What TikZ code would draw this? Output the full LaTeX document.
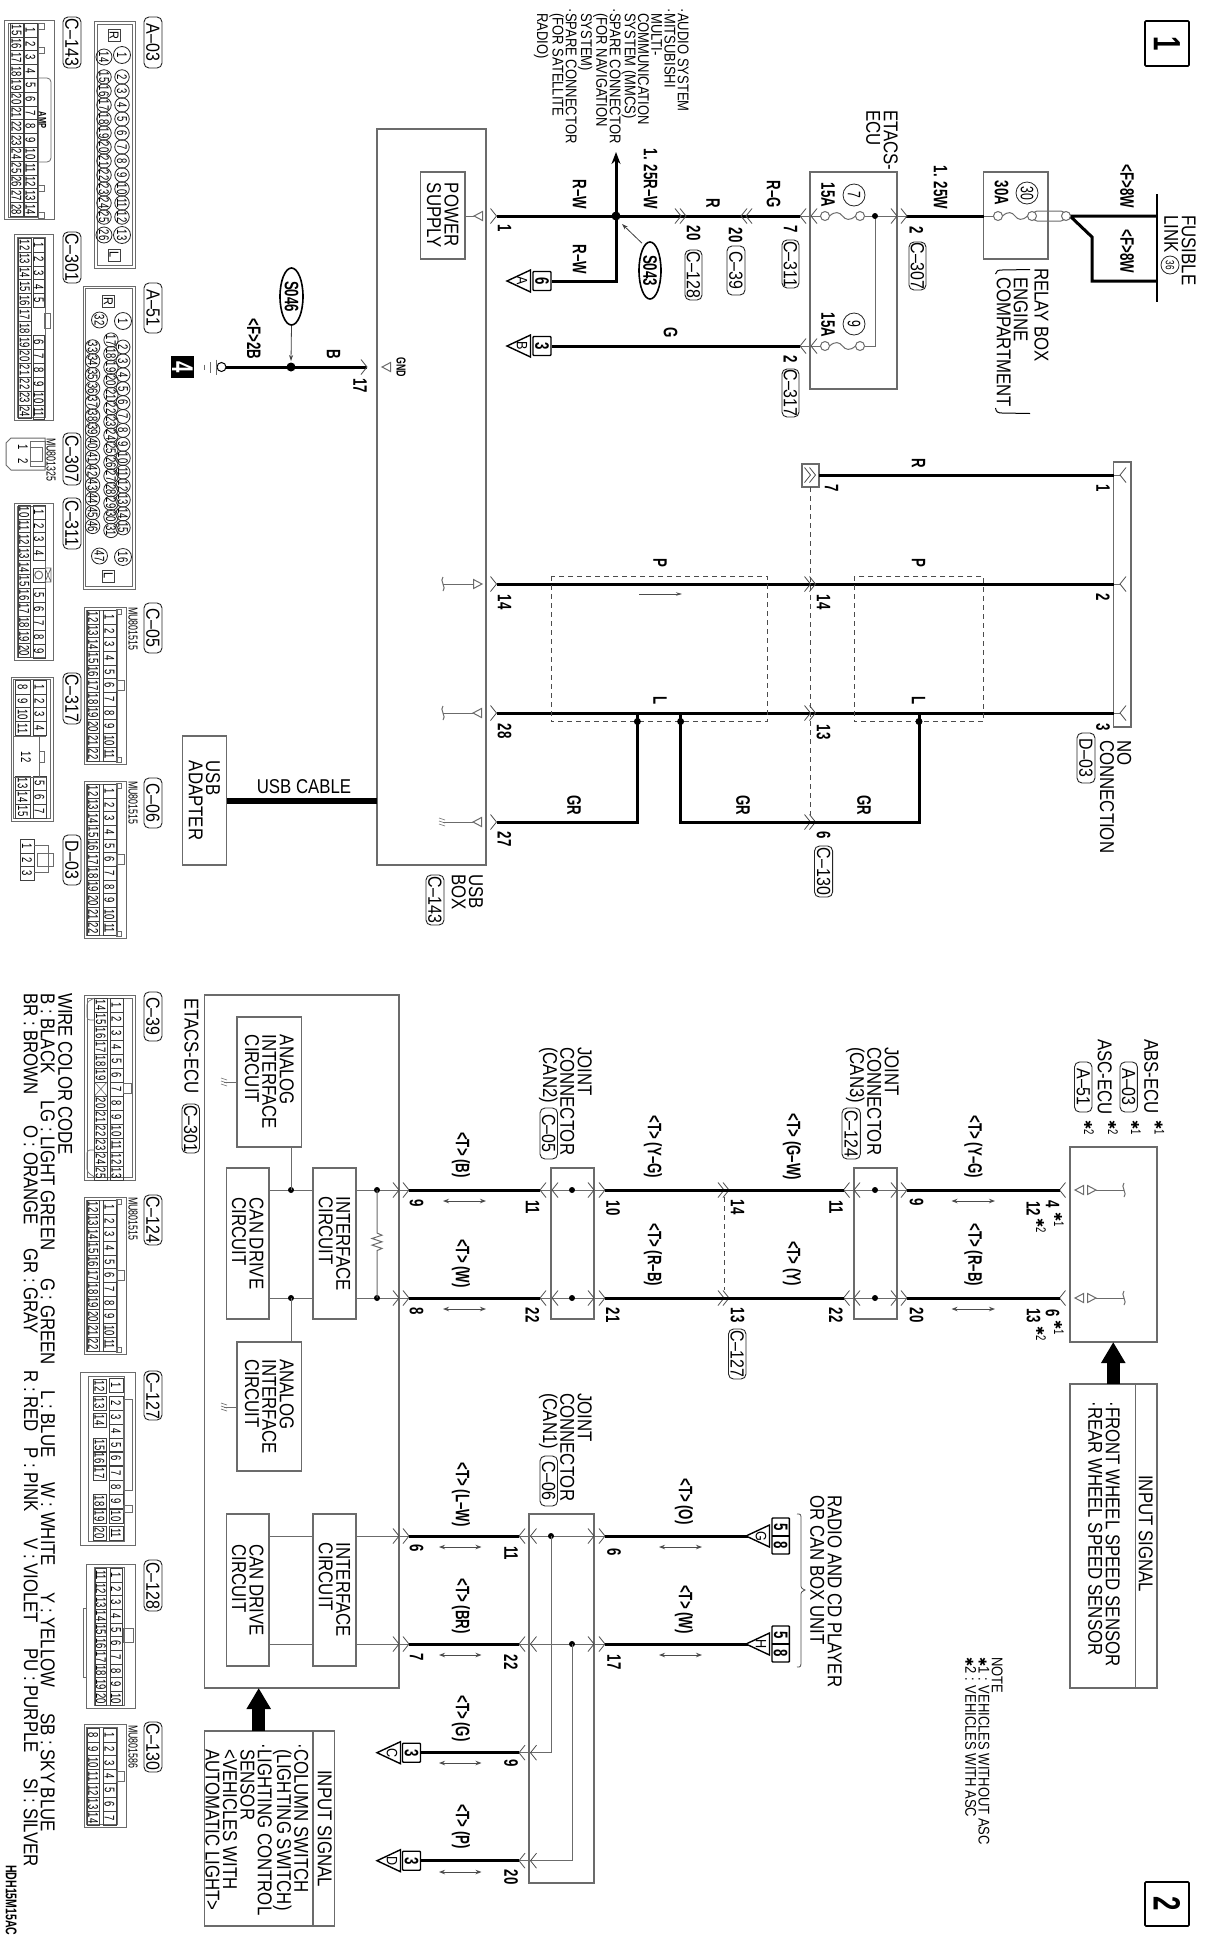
\documentclass[tikz,border=0pt]{standalone}
\usepackage{fontspec}
\usetikzlibrary{arrows.meta,shapes.geometric}
\setmainfont{Liberation Sans}
\newfontfamily\fA[FakeStretch=0.84]{Liberation Sans}
\newfontfamily\fB[FakeStretch=0.68,UprightFont=* Bold]{Liberation Sans}
\newfontfamily\fC[FakeStretch=0.68]{Liberation Sans}
\newfontfamily\fS{DejaVu Sans}
\newcommand\sA{\fA\fontsize{20}{17.4}\selectfont}
\newcommand\sC{\fA\fontsize{15.5}{13.3}\selectfont}
\newcommand\sD{\fC\fontsize{13}{13}\selectfont}
\newcommand\sN{\fB\fontsize{19.5}{19.5}\selectfont}
\newcommand\sP{\fC\fontsize{14}{14}\selectfont}
\newcommand\sQ{\fA\fontsize{13}{13}\selectfont}
\newcommand\sK{\fA\fontsize{19}{19}\selectfont}
\newcommand\st{{\fS\fontsize{11}{11}\selectfont ✱}}
\newcounter{nn}
\definecolor{lg}{gray}{0.42}
\tikzset{
 txt/.style={rotate=-90,inner sep=0pt,font=\sA,align=left},
 tagb/.style={rotate=-90,draw=black!85,line width=0.9pt,rounded corners=5pt,inner sep=0pt,font=\sK},
 blk/.style={rotate=-90,draw=lg,line width=1.1pt,inner sep=0pt,font=\sA,align=left},
 box/.style={draw=lg,line width=1.1pt},
 thk/.style={draw=black,line width=3pt,line join=miter},
 thn/.style={draw=lg,line width=1pt},
 chv/.style={draw=black!70,line width=0.8pt},
 dsh/.style={draw=black!70,line width=0.8pt,dash pattern=on 5pt off 4pt},
 pin/.style={rotate=-90,draw=black!75,line width=0.6pt,inner sep=0pt,font=\sP},
 cir/.style={rotate=-90,circle,draw=black!85,line width=0.8pt,inner sep=0pt,font=\sP},
 dbl/.style={draw=black!70,line width=0.9pt,{Stealth[length=6pt,width=4.5pt]}-{Stealth[length=6pt,width=4.5pt]}},
}
\newcommand\Tx[4][]{\stepcounter{nn}\node[txt,anchor=north west,#1] (n\thenn) at ({#2},{#3}) {#4};}
\newcommand\Cx[4][]{\stepcounter{nn}\node[txt,anchor=center,#1] (n\thenn) at ({#2},{#3}) {#4};}
\newcommand\Num[3]{\Cx[font=\sN]{#1}{#2}{#3}}
\newcommand\Tag[5]{\stepcounter{nn}\node[tagb,minimum width={#4-#3},minimum height={#2-#1}] (n\thenn) at ({(#1+#2)/2},{(#3+#4)/2}) {#5};}
\newcommand\Bx[5][]{\draw[box,#1] (#2,#3) rectangle (#4,#5);}
\newcommand\Blk[6]{\node[blk,minimum width={#5-#4},minimum height={#3-#2}] (#1) at ({(#2+#3)/2},{(#4+#5)/2}) {#6};}
\newcommand\chR[2]{\draw[chv] (#1,#2)++(-6,-7.5) -- (#1,#2) -- ++(-6,7.5);}
\newcommand\chL[2]{\draw[chv] (#1,#2)++(6,-7.5) -- (#1,#2) -- ++(6,7.5);}
\newcommand\Dt[2]{\fill (#1,#2) circle[radius=3pt];}
\newcommand\TriL[2]{\draw[thn] (#1,#2) -- ++(8.5,-4.5) -- ++(0,9) -- cycle;}
\newcommand\TriR[2]{\draw[thn] (#1,#2) -- ++(-8.5,-4.5) -- ++(0,9) -- cycle;}
\newcommand\Tld[2]{\draw[thn] (#1,#2)++(0,-7) .. controls ++(-4,3) and ++(4,-3) .. ++(0,14);}
\newcommand\Gnd[2]{\draw[thn,line width=.6pt] (#1,#2)++(-3,-4)--++(6,2) (#1,#2)++(-3,-1)--++(6,2) (#1,#2)++(-3,2)--++(6,2);}
\newcommand\Fz[3]{\draw[thn] (#1,#3) circle[radius=4.5pt] (#2,#3) circle[radius=4.5pt];
 \draw[thn] ({#1+4.5},#3) .. controls ({#1+10},{#3-5}) and ({(#1+#2)/2-3},{#3-4}) .. ({(#1+#2)/2},#3) .. controls ({(#1+#2)/2+3},{#3+4}) and ({#2-10},{#3+5}) .. ({#2-4.5},#3);}
\newcommand\Tri[3]{\draw[draw=black,line width=1.4pt] (#1,#2) -- ++(23.5,-11) -- ++(0,22) -- cycle;
 \Cx[font=\fA\fontsize{15}{15}\selectfont]{#1+15}{#2}{#3}}
\newcommand\Cell[6]{\stepcounter{nn}\node[pin,minimum width=#5,minimum height={#2-#1},#6] (n\thenn) at ({(#1+#2)/2},{#3}) {#4};}
\newcommand\Row[5]{\foreach \n [count=\i from 0] in {#5} {\Cell{#1}{#2}{#3+\i*#4}{\n}{#4}{}}}
\newcommand\Cir[4]{\stepcounter{nn}\node[cir,minimum size=#3] (n\thenn) at ({#1},{#2}) {#4};}
\newcommand\Jc[3]{\Bx[line width=.9pt]{84}{#1}{126.5}{#1+157}\Bx[line width=.7pt]{86}{#1+3}{117}{#1+154}
 \Row{103}{116}{#1+10}{13.7}{1,2,3,4,5,6,7,8,9,10,11}
 \Row{87}{99.5}{#1+10}{13.7}{12,13,14,15,16,17,18,19,20,21,22}
 \Bx[line width=.7pt]{116}{#1+73}{124.5}{#1+83}\Bx[line width=.7pt]{116}{#1+2}{121}{#1+7}\Bx[line width=.7pt]{116}{#1+150}{121}{#1+155}
 \Tx[font=\sD]{138}{#1}{#3}}
\newcommand\Bt[2]{\draw[draw=black,line width=1.4pt,rounded corners=.8pt] (#1,#2)++(-9,-9.5) rectangle ++(18,19);}
\begin{document}
\begin{tikzpicture}[x=1pt,y=-1pt]
\useasboundingbox (0,0) rectangle (1210,1947);
\fill[white] (0,0) rectangle (1210,1947);
%% ---- page number boxes
\node[rotate=-90,draw=black,line width=1.6pt,rounded corners=1pt,minimum width=45pt,minimum height=44pt,font=\fB\fontsize{38}{38}\selectfont] (pg1) at (1167,43.5) {1};
\node[rotate=-90,draw=black,line width=1.6pt,rounded corners=1pt,minimum width=44pt,minimum height=44pt,font=\fB\fontsize{38}{38}\selectfont] (pg2) at (1167,1904) {2};
%% ---- connector tags, left column
\Tag{144}{162}{17}{68}{A–03}\Tag{63}{81}{17}{68}{C–143}\Tag{63}{81}{232}{283}{C–301}\Tag{144}{162}{283}{333}{A–51}
\Tag{63}{81}{433}{485}{C–307}\Tag{63}{81}{498}{549}{C–311}\Tag{144}{162}{603}{653}{C–05}\Tag{63}{81}{673}{724}{C–317}
\Tag{144}{162}{778}{828}{C–06}\Tag{63}{81}{835}{885}{D–03}\Tag{144}{162}{992}{1041}{C–39}\Tag{144}{162}{1195}{1245}{C–124}
\Tag{144}{162}{1371}{1420}{C–127}\Tag{144}{162}{1560}{1611}{C–128}\Tag{144}{162}{1722}{1772}{C–130}
%% C-143
\Bx[line width=.9pt]{4.6}{20}{54}{219}\Bx[line width=.7pt]{8}{23}{38}{217}
\Row{24}{37}{30}{13.8}{1,2,3,4,5,6,7,8,9,10,11,12,13,14}
\Row{10}{23}{30}{13.8}{15,16,17,18,19,20,21,22,23,24,25,26,27,28}
\draw[thn,rounded corners=4pt,line width=.8pt] (38,78) -- (51,78) -- (51,162) -- (38,162);
\Cx[font=\fB\fontsize{11}{11}\selectfont]{42.5}{120}{AMP}
\foreach \yy in {23,47,185,212}{\Bx[line width=.7pt]{38}{\yy}{44}{\yy+6}}
%% A-03
\Bx[line width=.9pt]{94.5}{21.7}{135}{268}\Bx[line width=.7pt]{97}{24}{132.5}{265.5}
\Cell{108}{120}{35}{R}{12}{font=\sQ}\Cell{108}{120}{255}{L}{12}{font=\sQ}
\Cir{122}{55}{17}{1}\Cir{104}{57}{16}{14}
\foreach \n [count=\i from 0] in {2,...,12} {\Cir{122}{77+\i*14}{14.5}{\n}}
\foreach \n [count=\i from 0] in {15,...,25} {\Cir{104}{77+\i*14}{14.5}{\n}}
\Cir{122}{235}{17}{13}\Cir{104}{235}{16}{26}
%% A-51
\Bx[line width=.9pt]{83}{286}{135}{589}\Bx[line width=.7pt]{85.5}{288.5}{132.5}{586.5}
\Cell{102}{114.6}{301}{R}{12}{font=\sQ}\Cell{102}{114.6}{576}{L}{12}{font=\sQ}
\Cir{123}{321}{17}{1}\Cir{99.5}{320}{16}{32}
\foreach \n [count=\i from 0] in {2,...,15} {\Cir{123}{347+\i*13.9}{14}{\n}}
\foreach \n [count=\i from 0] in {17,...,31} {\Cir{111}{340+\i*13.6}{14}{\n}}
\foreach \n [count=\i from 0] in {33,...,46} {\Cir{92.6}{347+\i*13.8}{14}{\n}}
\Cir{123}{557}{17}{16}\Cir{99.5}{556}{16}{47}
%% C-301
\Bx[line width=.9pt]{14.7}{234}{53}{420}\Bx[line width=.7pt]{17}{237}{45.5}{417}
\Row{33}{44.5}{245}{13.9}{1,2,3,4,5}\Row{33}{44.5}{342}{14}{6,7,8,9,10,11}
\Row{18.5}{31}{245}{13.9}{12,13,14,15,16,17,18,19,20,21,22,23,24}
\Bx[line width=.7pt]{44.5}{313}{50}{328}
%% C-307
\draw[thn] (6,443)--(11,438)--(45,438)--(45,470)--(11,470)--(6,465)--cycle;
\Bx[line width=.7pt]{30}{441}{45}{466}\Bx[line width=.7pt]{30}{447}{42}{461}
\Cx[font=\sP]{23}{447}{1}\Cx[font=\sP]{23}{461}{2}
\Tx[font=\sD]{56}{438}{MU801325}
%% C-311
\Bx[line width=.9pt]{14.7}{503}{53}{660}\Bx[line width=.7pt]{17}{506}{45.5}{657}
\Row{33}{45}{512}{13.7}{1,2,3,4}\Cell{33}{45}{575}{}{14}{}\draw[thn] (38.7,575) circle[radius=4pt];
\Row{33}{45}{595}{14}{5,6,7,8,9}
\Row{18.5}{30}{512}{13.85}{10,11,12,13,14,15,16,17,18,19,20}
\draw[thn,line width=.7pt] (45,568)--(51,568)--(51,582)--(45,582)--(51,568) (45,568)--(51,582);
%% C-317
\Bx[line width=.9pt]{11}{677}{53}{821}\Bx[line width=.7pt]{13.5}{679.5}{50.5}{818.5}
\Row{33}{46}{687}{13.8}{1,2,3,4}\Row{33}{46}{783}{14}{5,6,7}
\Row{15.5}{30}{687}{13.8}{8,9,10,11}\Row{15.5}{30}{783}{14}{13,14,15}
\Cx[font=\sP]{26}{757}{12}\draw[thn,line width=.7pt] (39.5,736)--(39.5,777) (39.5,751)--(44,751)--(44,762)--(39.5,762);
\draw[thn,line width=.7pt] (14,736)--(46,736) (14,777)--(46,777);
%% C-05, C-06, C-124
\Jc{607}{}{MU801515}\Jc{781}{}{MU801515}\Jc{1197}{}{MU801515}
%% D-03
\Row{20}{34}{846}{13.7}{1,2,3}
\draw[thn,line width=.7pt] (34,845)--(48,845)--(48,872)--(34,872) (37,853)--(53,853)--(53,866)--(37,866)--cycle;
%% C-39
\Bx[line width=.9pt]{84}{995}{135}{1180}\Bx[line width=.7pt]{87}{998}{132}{1177}
\Row{110}{123}{1005}{14}{1,2,3,4,5,6,7,8,9,10,11,12,13}
\Row{94.5}{107}{1005}{14}{14,15,16,17,18,19}\Cell{94.5}{107}{1089}{}{14}{}\draw[thn,line width=.6pt] (94.5,1082)--(107,1096) (94.5,1096)--(107,1082);
\Row{94.5}{107}{1103}{14}{20,21,22,23,24,25}
\Bx[line width=.7pt]{123}{1083}{131}{1093}
\draw[thn,line width=.7pt,rounded corners=3pt] (94.5,998)--(87,1002)--(87,1020)--(94.5,1020) (94.5,1150)--(87,1150)--(87,1172)--(94.5,1177);
%% C-127
\Bx[line width=.9pt]{80}{1372}{135}{1545}\Bx[line width=.7pt]{88}{1376}{124}{1541}
\foreach \yy/\n in {1385/1,1403/2,1417/3,1431/4,1445/5,1458/6,1473/7,1487/8,1501/9,1516/10,1533/11}{\Cell{109}{123}{\yy}{\n}{14}{}}
\foreach \yy/\n in {1386/12,1403/13,1420/14,1445/15,1458/16,1473/17,1501/18,1516/19,1533/20}{\Cell{93}{106}{\yy}{\n}{14}{}}
\Bx[line width=.7pt]{123}{1399}{132}{1490}\Bx[line width=.7pt]{123}{1505}{132}{1512}
%% C-128
\Bx[line width=.9pt]{86}{1564}{135}{1708}\Bx[line width=.7pt]{94}{1567}{124}{1705}
\Row{110}{122}{1575}{13.7}{1,2,3,4,5,6,7,8,9,10}
\Row{95.7}{106}{1575}{13.7}{11,12,13,14,15,16,17,18,19,20}
\draw[thn,line width=.7pt] (86,1608)--(83.5,1608)--(83.5,1677)--(86,1677);
\Bx[line width=.7pt]{123}{1628}{133}{1642}
%% C-130
\Bx[line width=.9pt]{84}{1724}{126.5}{1827}\Bx[line width=.7pt]{86}{1727}{117}{1824}
\Row{103}{116}{1735}{13.85}{1,2,3,4,5,6,7}
\Row{87}{99.5}{1735}{13.85}{8,9,10,11,12,13,14}
\Bx[line width=.7pt]{116}{1771}{124.5}{1781}
\Tx[font=\sD]{138}{1725}{MU801586}
%% wire color code
\Tx{72.5}{993}{WIRE COLOR CODE}
\foreach \yy/\t in {993/B : BLACK,1100/LG : LIGHT GREEN,1278/G : GREEN,1390/L : BLUE,1482/W : WHITE,1592/Y : YELLOW,1713/SB : SKY BLUE}{\Tx{55}{\yy}{\t}}
\foreach \yy/\t in {993/BR : BROWN,1125/O : ORANGE,1248/GR : GRAY,1370/R : RED,1447/P : PINK,1538/V : VIOLET,1648/PU : PURPLE,1778/SI : SILVER}{\Tx{38}{\yy}{\t}}
\Tx[font=\fB\fontsize{15.5}{15.5}\selectfont]{17}{1865}{HDH15M15AC}
%% ---------- upper circuit
\Blk{ubox}{377}{486}{129}{865}{}
\Blk{psup}{420.5}{465}{172}{259}{POWER\\SUPPLY}
\Blk{adap}{182.5}{226.5}{736}{865}{USB\\ADAPTER}
\Blk{etop}{810}{897}{172}{389}{}
\Blk{rbox}{983.5}{1048}{172}{259}{}
\Blk{dbar}{1113.5}{1131}{462}{727}{}
\Blk{dend}{802}{819}{464}{487}{}
%% fusible link
\draw[draw=black,line width=1.8pt] (1157,194)--(1157,302);
\Tx{1196}{215}{FUSIBLE\\LINK}
\Cir{1170}{265}{18}{\fontsize{12}{12}\selectfont 36}
\coordinate (fl1) at (1157,216);\coordinate (fl2) at (1157,281);\coordinate (fj) at (1070,216);\coordinate (fb1) at (1092,237);\coordinate (fb2) at (1092,281);
\draw[thk] (fl1)--(fj)--(fb1)--(fb2)--(fl2);
\draw[thn] (1032,211) [rounded corners=5pt] rectangle (1066,221);
\fill[white] (1032,216) circle[radius=4.5pt] (1066,216) circle[radius=4.5pt];
\draw[thn] (1066,216) circle[radius=4.5pt];
\Fz{998}{1032}{216}
\draw[thn] (983.5,216)--(993.5,216);
\Cir{1027}{193}{22}{\fontsize{18}{18}\selectfont 30}
\Cx[font=\sN]{1001.6}{193}{30A}
\coordinate (r1) at (983.5,216);\coordinate (e1) at (906,216);
\draw[thk] (e1)--(r1);
\Cx[font=\sN]{1127}{186.5}{<F>8W}\Cx[font=\sN]{1127}{251.5}{<F>8W}
\Tx{1048.7}{268}{RELAY BOX}\Tx{1028}{277}{ENGINE}\Tx{1011}{277}{COMPARTMENT}
\draw[draw=black,line width=1pt] (1030,269.5) -- (1002,270) .. controls (998,270) and (996,271) .. (995.5,274);
\draw[draw=black,line width=1pt] (1030,413.5) -- (1002,413) .. controls (998,413) and (996,412) .. (995.5,408);
\Cx[font=\sN]{940.5}{187.5}{1. 25W}\Num{916.5}{230}{2}
\Tag{909}{926}{242}{290}{C–307}
%% ETACS fuses
\Tx{898}{110}{ETACS-\\ECU}
\Fz{825}{860}{216}\Fz{825}{860}{346}
\Cir{854}{195}{22}{\fontsize{18}{18}\selectfont 7}\Cir{854}{324}{22}{\fontsize{18}{18}\selectfont 9}
\Cx[font=\sN]{828}{195}{15A}\Cx[font=\sN]{828}{325}{15A}
\coordinate (ej) at (875,216);\coordinate (ek) at (875,346);\coordinate (ef) at (864.5,346);
\draw[thn] (864.5,216)--(906,216) (800,216)--(820.5,216) (800,346)--(820.5,346);
\draw[thn] (ej)--(ek)--(ef);
\Dt{875}{216}
\chR{897}{216}\chR{907}{216}\chL{800}{216}\chL{811}{216}\chL{800}{346}\chL{811}{346}
%% main R-W wire
\coordinate (jn) at (616,216);\coordinate (e2) at (800,216);\coordinate (u1) at (496.5,216);\coordinate (up) at (616,152);
\draw[thk] (u1)--(e2);
\draw[draw=black,line width=3pt,-{Stealth[length=12pt,width=9pt]}] (jn)--(up);
\fill (jn) circle[radius=4.5pt];
\chR{681}{216}\chR{686}{216}\chL{741}{216}\chL{746}{216}\chR{496.5}{216}
\TriL{474}{216}\draw[thn] (465,216)--(474,216);
\Cx[font=\sN]{773.5}{194.5}{R–G}\Cx[font=\sN]{713}{203}{R}\Cx[font=\sN]{650.5}{179}{1. 25R–W}
\Num{790.5}{229}{7}\Tag{782}{799}{240}{288}{C–311}\Num{790.5}{359}{2}\Tag{782}{799}{369}{417}{C–317}
\Num{735.5}{235}{20}\Tag{727}{745}{246}{295}{C–39}\Num{693.5}{233}{20}\Tag{685}{702}{250}{300}{C–128}
\Cx[font=\sN]{670.5}{333}{G}
\Cx[font=\sN]{579.5}{194.5}{R–W}\Cx[font=\sN]{579.5}{259.5}{R–W}
\node[rotate=-90,ellipse,draw=black,line width=1.6pt,inner sep=0pt,minimum width=57pt,minimum height=22pt,font=\sN] (s043) at (650,270.5) {S043};
\draw[draw=black!75,line width=.8pt,-{Stealth[length=6pt,width=4pt]}] (s043.west)++(-8,2)--(622,224);
%% branches to triangles
\coordinate (b6) at (552,281);\coordinate (bc) at (616,281);
\draw[thk] (jn)--(bc)--(b6);
\Bt{542}{281}\Cx[font=\sN]{542}{281}{6}\Tri{507}{281}{A}
\coordinate (b3) at (552,346);\coordinate (e3) at (800,346);
\draw[thk] (b3)--(e3);
\Bt{542}{346}\Cx[font=\sN]{542}{346}{3}\Tri{507}{346}{B}
%% ground
\coordinate (g1) at (367,367);\coordinate (g2) at (226,367);
\draw[thk] (g1)--(g2);
\chR{367}{367}\draw[draw=black,line width=1pt] (221.5,367) circle[radius=4.5pt];
\draw[thn] (216,359.5)--(216,375) (210,362)--(210,372.5) (204.5,364.5)--(204.5,370);
\fill (291,367) circle[radius=4.5pt];
\node[rotate=-90,ellipse,draw=black,line width=1.6pt,inner sep=0pt,minimum width=57pt,minimum height=23pt,font=\sN] (s046) at (291.5,296.5) {S046};
\draw[draw=black!75,line width=.8pt,-{Stealth[length=6pt,width=4pt]}] (s046.east)--(291,361);
\Cx[font=\sN]{254}{339}{<F>2B}\Cx[font=\sN]{333.5}{354}{B}\Num{360}{385.5}{17}\Num{504.5}{228.5}{1}
\Cx[font=\fB\fontsize{13}{13}\selectfont]{401}{367.5}{GND}\TriL{382}{367}
\fill[black] (171,356) rectangle (194,378);
\Cx[font=\fB\fontsize{30}{30}\selectfont,text=white]{182.5}{367}{4}
%% top text list
\Tx[font=\sC]{689}{13}{\llap{·}AUDIO SYSTEM\\\llap{·}MITSUBISHI\\MULTI-\\COMMUNICATION\\SYSTEM (MMCS)\\\llap{·}SPARE CONNECTOR\\(FOR NAVIGATION\\SYSTEM)\\\llap{·}SPARE CONNECTOR\\(FOR SATELLITE\\RADIO)}
%% USB wires
\coordinate (p14) at (496.5,584);\coordinate (p28) at (496.5,713);\coordinate (p27) at (496.5,822);
\coordinate (d2) at (1114,584);\coordinate (d3) at (1114,713);\coordinate (d1) at (1114,475);\coordinate (d7) at (819,475);
\draw[thk] (p14)--(d2);\draw[thk] (p28)--(d3);\draw[thk] (d7)--(d1);
\draw[thn] (1114,475)--(1120,475) (1114,584)--(1120,584) (1114,713)--(1120,713);
\chL{1120}{475}\chL{1120}{584}\chL{1120}{713}
\chR{810.5}{475}\chR{815.5}{475}\chR{810.5}{584}\chR{815.5}{584}\chR{810.5}{713}\chR{815.5}{713}\chR{810.5}{822}\chR{815.5}{822}
\draw[dsh] (810,487)--(810,815);
\draw[dsh] (551,576) rectangle (767.4,721.7);
\draw[dsh] (854,576) rectangle (983.5,721.7);
\coordinate (g0) at (637.4,713);\coordinate (g00) at (637.4,822);
\draw[thk] (p27)--(g00)--(g0);
\coordinate (g3) at (680.6,713);\coordinate (g4) at (680.6,822);\coordinate (g5) at (919,822);\coordinate (g6) at (919,713);
\draw[thk] (g3)--(g4)--(g5)--(g6);
\foreach \xx in {637.4,680.6,919}{\fill (\xx,721.5) circle[radius=3.5pt];}
\chR{496.5}{584}\chR{496.5}{713}\chR{496.5}{822}
\TriR{482}{584}\TriL{473}{713}\TriL{473}{822}
\draw[thn] (443,584)--(473.5,584) (443,713)--(473,713) (443,822)--(473,822);
\Tld{443}{584}\Tld{443}{713}\Gnd{442}{822}
\Num{504.5}{602}{14}\Num{504.5}{731}{28}\Num{504.5}{839}{27}
\Cx[font=\sN]{918.5}{463}{R}\Cx[font=\sN]{660}{563}{P}\Cx[font=\sN]{918.5}{563}{P}\Cx[font=\sN]{660}{700.7}{L}\Cx[font=\sN]{918.5}{700.7}{L}
\Cx[font=\sN]{574}{805}{GR}\Cx[font=\sN]{743}{805}{GR}\Cx[font=\sN]{864}{805}{GR}
\coordinate (sa1) at (639,594);\coordinate (sa2) at (682,594);
\draw[draw=black!70,line width=.8pt,-{Stealth[length=6pt,width=3.5pt]}] (sa1)--(sa2);
\Num{831.5}{488}{7}\Num{823.5}{602}{14}\Num{823.5}{732}{13}\Num{823.5}{835}{6}\Tag{814.5}{832.6}{846}{897}{C–130}
\Num{1103}{488}{1}\Num{1103}{597}{2}\Num{1103}{727}{3}\Tag{1077}{1095}{733}{783}{D–03}
\Tx{1131.6}{740}{NO\\CONNECTION}
\coordinate (uc1) at (226.5,800.5);\coordinate (uc2) at (377,800.5);
\draw[draw=black,line width=6pt] (uc1)--(uc2);
\node[inner sep=0pt,font=\fA\fontsize{20}{20}\selectfont,anchor=center] (usbc) at (304,787) {USB CABLE};
\Tx{483.4}{874}{USB\\BOX}\Tag{426}{444}{875}{925}{C–143}
%% ---------- lower circuit
\Blk{ecu}{204.5}{399}{995}{1688}{}
\Tx{198.7}{998}{ETACS-ECU}\Tag{182}{199.5}{1104}{1153}{C–301}
\Blk{ana1}{237}{301.7}{1017}{1147}{ANALOG\\INTERFACE\\CIRCUIT}
\Blk{ana2}{237}{301.7}{1342}{1471}{ANALOG\\INTERFACE\\CIRCUIT}
\Blk{can1}{226.5}{269}{1168}{1319}{CAN DRIVE\\CIRCUIT}
\Blk{ifc1}{313}{356}{1168}{1319}{INTERFACE\\CIRCUIT}
\Blk{can2}{226.5}{269}{1514}{1666}{CAN DRIVE\\CIRCUIT}
\Blk{ifc2}{313}{356}{1514}{1666}{INTERFACE\\CIRCUIT}
\Blk{jc2}{551}{594}{1168}{1319}{}
\Blk{jc3}{854}{897}{1168}{1319}{}
\Blk{jc1}{529}{594}{1514}{1883}{}
\Blk{abs}{1070}{1157}{1147}{1342}{}
\Blk{ins1}{1070}{1157}{1384}{1688}{}
\Blk{ins2}{204.5}{334.5}{1731}{1926}{}
\draw[box] (1135.5,1384)--(1135.5,1688);
\draw[box] (313,1731)--(313,1926);
%% internal lines, CAN pair A
\foreach \yy in {1190,1298}{
 \draw[thn] (269,\yy)--(313,\yy) (356,\yy)--(409,\yy) (540,\yy)--(605,\yy) (843.5,\yy)--(907,\yy);
 \Dt{291}{\yy}\Dt{377}{\yy}\Dt{572}{\yy}\Dt{875}{\yy}
 \chR{399}{\yy}\chR{409}{\yy}\chL{540}{\yy}\chL{552}{\yy}\chR{594}{\yy}\chR{605}{\yy}
 \chL{843.5}{\yy}\chL{854}{\yy}\chR{897}{\yy}\chR{907}{\yy}\chL{1059.5}{\yy}
 \chR{724}{\yy}\chR{729}{\yy}
 \draw[thk] (409,\yy)--(540,\yy) (605,\yy)--(843.5,\yy) (907,\yy)--(1059.5,\yy);
 \TriL{1075}{\yy}\TriR{1096}{\yy}\draw[thn] (1096,\yy)--(1124,\yy);\Tld{1124}{\yy}
}
\draw[thn] (291,1147)--(291,1190) (291,1298)--(291,1342);
\draw[thn] (224,1082)--(237,1082);\Gnd{224}{1082}
\draw[thn] (224,1407)--(237,1407);\Gnd{224}{1407}
\draw[thn] (377,1190)--(377,1233) -- ++(5,2.2) -- ++(-10,3.3) -- ++(10,3.3) -- ++(-10,3.3) -- ++(10,3.3) -- ++(-5,2.2) -- (377,1298);
\draw[dsh] (724,1197)--(724,1290);
%% CAN pair B
\foreach \yy in {1536,1644}{
 \draw[thn] (269,\yy)--(313,\yy) (356,\yy)--(409,\yy) (519,\yy)--(605,\yy);
 \chR{399}{\yy}\chR{409}{\yy}\chL{519}{\yy}\chL{530.5}{\yy}\chR{594}{\yy}\chR{605}{\yy}
 \draw[thk] (409,\yy)--(519,\yy) (605,\yy)--(748,\yy);
}
\Dt{551}{1536}\Dt{572}{1644}
\draw[thn] (551,1536)--(551,1752.7)--(519,1752.7);
\draw[thn] (572,1644)--(572,1860.7)--(519,1860.7);
\foreach \yy/\l in {1752.7/C,1860.7/D}{
 \chL{519}{\yy}\chL{530.5}{\yy}
 \draw[thk] (420.5,\yy)--(519,\yy);
 \Bt{411.5}{\yy}\Cx[font=\sN]{411.5}{\yy}{3}\Tri{377}{\yy}{\l}
}
\Tri{746}{1536}{G}\Tri{746}{1644}{H}
\foreach \yy in {1536,1644}{
 \draw[draw=black,line width=1.4pt,rounded corners=.8pt] (772,\yy-18) rectangle (789.4,\yy+18);
 \draw[draw=black,line width=1.2pt] (772,\yy) -- (789.4,\yy);
 \Cx[font=\sN]{780.7}{\yy-9}{5}\Cx[font=\sN]{780.7}{\yy+9}{8}
}
\draw[draw=black!70,line width=.8pt] (797,1514) .. controls (801,1514) .. (801,1520) -- (801,1584) .. controls (801,1588) .. (805,1590) .. controls (801,1592) .. (801,1596) -- (801,1660) .. controls (801,1667) .. (797,1667);
\Tx{842}{1495}{RADIO AND CD PLAYER\\OR CAN BOX UNIT}
%% labels lower
\Tx{592}{1047}{JOINT\\CONNECTOR\\(CAN2)}\Tag{540}{557.5}{1108}{1159}{C–05}
\Tx{899}{1047}{JOINT\\CONNECTOR\\(CAN3)}\Tag{842}{860.4}{1108}{1159}{C–124}
\Tx{592}{1393}{JOINT\\CONNECTOR\\(CAN1)}\Tag{540}{557.5}{1456}{1506}{C–06}
\Cx[font=\sN]{461}{1155}{<T> (B)}\Cx[font=\sN]{461}{1263.5}{<T> (W)}
\Cx[font=\sN]{653}{1147}{<T> (Y–G)}\Cx[font=\sN]{653}{1255}{<T> (R–B)}
\Cx[font=\sN]{792}{1147}{<T> (G–W)}\Cx[font=\sN]{792}{1263.5}{<T> (Y)}
\Cx[font=\sN]{973.5}{1147}{<T> (Y–G)}\Cx[font=\sN]{973.5}{1255}{<T> (R–B)}
\Cx[font=\sN]{461}{1494.5}{<T> (L–W)}\Cx[font=\sN]{461}{1606}{<T> (BR)}\Cx[font=\sN]{461}{1718.5}{<T> (G)}\Cx[font=\sN]{461}{1826.5}{<T> (P)}
\Cx[font=\sN]{684}{1501.5}{<T> (O)}\Cx[font=\sN]{684}{1609.5}{<T> (W)}
\foreach \xa/\xb/\yy in {443/486/1201,443/486/1309,951.5/995/1201,951.5/995/1309,439/481.5/1547,439/481.5/1655,439/481.5/1763,439/481.5/1872,659/702/1547,659/702/1655}{
 \coordinate (da) at (\xa,\yy);\coordinate (db) at (\xb,\yy);\draw[dbl] (da)--(db);}
\Num{416.5}{1203}{9}\Num{416.5}{1311}{8}\Num{532.5}{1207}{11}\Num{532.5}{1315}{22}
\Num{613}{1208}{10}\Num{613}{1315}{21}\Num{737.5}{1207}{14}\Num{737.5}{1315}{13}\Tag{728.5}{746}{1329}{1379}{C–127}
\Num{836}{1207}{11}\Num{836}{1315}{22}\Num{916.5}{1202}{9}\Num{916.5}{1315}{20}
\Num{416.5}{1548}{6}\Num{416.5}{1657}{7}\Num{511}{1553}{11}\Num{511}{1662}{22}\Num{511}{1763}{9}\Num{511}{1877}{20}
\Num{614}{1552}{6}\Num{614}{1662}{17}
%% ABS pin numbers
\Num{1052.5}{1204.5}{4}\Cx[font=\sP]{1059}{1220}{\st 1}
\Num{1033.5}{1208.5}{12}\Cx[font=\sP]{1041}{1226}{\st 2}
\Num{1052.5}{1313}{6}\Cx[font=\sP]{1059}{1328}{\st 1}
\Num{1033.5}{1315.5}{13}\Cx[font=\sP]{1041}{1334}{\st 2}
\Tx{1158.6}{1039}{ABS-ECU}\Cx[font=\sP]{1159.5}{1127.5}{\st 1}
\Tag{1120}{1137.4}{1062}{1112}{A–03}\Cx[font=\sP]{1136}{1127.5}{\st 1}
\Tx{1112}{1039}{ASC-ECU}\Cx[font=\sP]{1113}{1127.5}{\st 2}
\Tag{1074.5}{1092}{1062}{1112}{A–51}\Cx[font=\sP]{1089}{1127.5}{\st 2}
%% input signal arrows
\coordinate (ia1) at (1113.25,1384);\coordinate (ia2) at (1113.25,1342);
\draw[draw=black,line width=13.5pt,-{Triangle[length=21pt,width=23pt]}] (ia1)--(ia2);
\coordinate (ib1) at (258.7,1731);\coordinate (ib2) at (258.7,1688);
\draw[draw=black,line width=13.5pt,-{Triangle[length=21pt,width=23pt]}] (ib1)--(ib2);
\Tx{1153}{1475}{INPUT SIGNAL}
\Tx{1120}{1407}{\llap{·}FRONT WHEEL SPEED SENSOR\\\llap{·}REAR WHEEL SPEED SENSOR}
\Tx{332}{1770}{INPUT SIGNAL}
\Tx{308.6}{1749}{\llap{·}COLUMN SWITCH\\(LIGHTING SWITCH)\\\llap{·}LIGHTING CONTROL\\SENSOR\\<VEHICLES WITH\\AUTOMATIC LIGHT>}
\Tx[font=\sC]{1003}{1657}{NOTE\\{\st}1 : VEHICLES WITHOUT ASC\\{\st}2 : VEHICLES WITH ASC}
\end{tikzpicture}
\end{document}
